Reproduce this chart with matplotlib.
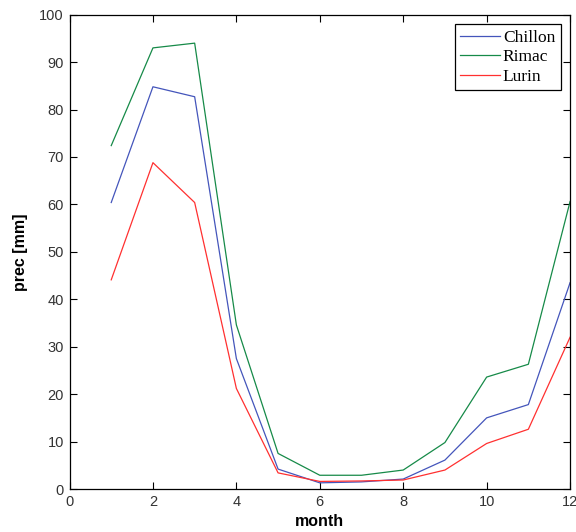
import numpy as np
import matplotlib
matplotlib.use("Agg")
import matplotlib.pyplot as plt

months = [1, 2, 3, 4, 5, 6, 7, 8, 9, 10, 11, 12]
chillon = [60.4, 84.8, 82.7, 27.5, 4.2, 1.3, 1.5, 2.1, 6.1, 15.0, 17.8, 43.5]
rimac = [72.4, 93.0, 94.0, 34.6, 7.5, 2.9, 2.9, 4.0, 9.8, 23.6, 26.3, 60.6]
lurin = [44.1, 68.8, 60.4, 21.2, 3.4, 1.6, 1.7, 1.9, 4.0, 9.6, 12.6, 32.0]

plt.rcParams['font.family'] = ['Liberation Sans', 'DejaVu Sans']

fig = plt.figure(figsize=(5.76, 5.32), dpi=100)
ax = fig.add_axes([0.1207, 0.0808, 0.869, 0.8916])

ax.plot(months, chillon, color='#4455bb', linewidth=0.9, label='Chillon')
ax.plot(months, rimac, color='#168a48', linewidth=0.9, label='Rimac')
ax.plot(months, lurin, color='#ff3030', linewidth=0.9, label='Lurin')

ax.set_xlim(0, 12)
ax.set_ylim(0, 100)
ax.set_xticks(np.arange(0, 13, 2))
ax.set_yticks(np.arange(0, 101, 10))
ax.tick_params(direction='in', length=5, width=0.8, top=True, right=True,
               labelsize=10.5, labelcolor='#333333', pad=4)
for s in ax.spines.values():
    s.set_linewidth(0.9)

ax.set_xlabel('month', fontsize=11.5, fontweight='bold', labelpad=4)
ax.set_ylabel('prec [mm]', fontsize=11.5, fontweight='bold', labelpad=8)

leg = ax.legend(loc='upper right', prop={'family': 'Liberation Serif', 'size': 12.5},
                frameon=True, fancybox=False, edgecolor='black', framealpha=1,
                handlelength=2.3, handletextpad=0.15, borderpad=0.3, labelspacing=0.2,
                borderaxespad=0.55)
leg.get_frame().set_linewidth(0.9)

fig.savefig('out.png', dpi=100)
